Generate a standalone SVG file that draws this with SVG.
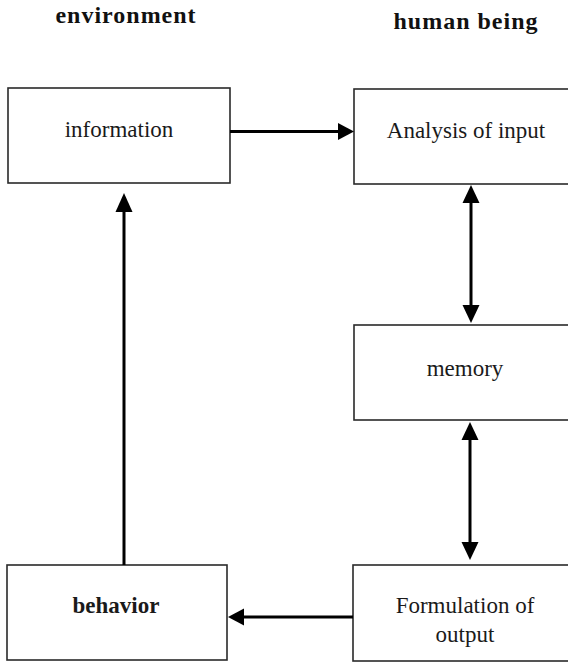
<svg xmlns="http://www.w3.org/2000/svg" width="568" height="664" viewBox="0 0 568 664">
  <style>
    .box { fill: #ffffff; stroke: #2a2a2a; stroke-width: 1.6; }
    .lbl { font-family: "Liberation Serif", "Times New Roman", serif; font-size: 23px; fill: #1a1a1a; text-anchor: middle; }
    .bold { font-weight: bold; }
    .head { font-family: "Liberation Serif", "Times New Roman", serif; font-size: 24px; font-weight: bold; fill: #111; text-anchor: middle; letter-spacing: 1px; }
    .wire { stroke: #000; stroke-width: 3; fill: none; }
    .tip { fill: #000; }
  </style>
  <rect width="568" height="664" fill="#ffffff"/>

  <!-- column headings -->
  <text class="head" x="126" y="23">environment</text>
  <text class="head" x="466" y="29">human being</text>

  <g id="information">
    <rect class="box" x="8" y="88" width="222" height="95"/>
    <text class="lbl" x="119" y="137">information</text>
  </g>
  <g id="analysis">
    <rect class="box" x="354" y="89" width="222" height="95"/>
    <text class="lbl" x="466" y="138">Analysis of input</text>
  </g>
  <g id="memory">
    <rect class="box" x="354" y="325" width="222" height="95"/>
    <text class="lbl" x="465" y="376">memory</text>
  </g>
  <g id="behavior">
    <rect class="box" x="7" y="565" width="220" height="95"/>
    <text class="lbl bold" x="116" y="613">behavior</text>
  </g>
  <g id="formulation">
    <rect class="box" x="353" y="565" width="222" height="96"/>
    <text class="lbl" x="465" y="613">Formulation of</text>
    <text class="lbl" x="465" y="642">output</text>
  </g>

  <g id="connectors">
    <!-- information -> analysis -->
    <line class="wire" x1="230" y1="131.5" x2="340" y2="131.5"/>
    <polygon class="tip" points="354,131.5 338,123 338,140"/>
    <!-- analysis <-> memory -->
    <line class="wire" x1="471" y1="200" x2="471" y2="308"/>
    <polygon class="tip" points="471,185 462.5,203 479.5,203"/>
    <polygon class="tip" points="471,323 462.5,305 479.5,305"/>
    <!-- memory <-> formulation -->
    <line class="wire" x1="470" y1="438" x2="470" y2="545"/>
    <polygon class="tip" points="470,422 461.5,440 478.5,440"/>
    <polygon class="tip" points="470,560 461.5,542 478.5,542"/>
    <!-- behavior -> information -->
    <line class="wire" x1="124" y1="565" x2="124" y2="208"/>
    <polygon class="tip" points="124,193 115.5,212 132.5,212"/>
    <!-- formulation -> behavior -->
    <line class="wire" x1="353" y1="617" x2="242" y2="617"/>
    <polygon class="tip" points="228,617 244,608.5 244,625.5"/>
  </g>
</svg>
